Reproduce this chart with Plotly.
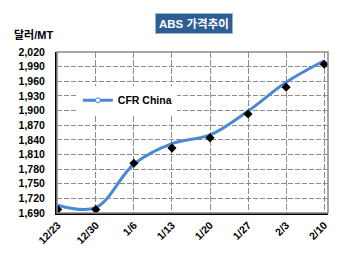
import plotly.graph_objects as go

categories = ["12/23", "12/30", "1/6", "1/13", "1/20", "1/27", "2/3", "2/10"]
cfr_china_line = [1706, 1701, 1790, 1832, 1850, 1899, 1958, 2002]
cfr_china_points = [1697, 1697, 1792, 1823, 1844, 1893, 1948, 1995]
y_ticks = list(range(1690, 2021, 30))

FONT = "Liberation Sans, Arial, Noto Sans CJK KR, sans-serif"
BLUE = "#4A88D6"

fig = go.Figure()
fig.add_trace(go.Scatter(
    x=categories, y=cfr_china_line, mode="lines",
    line=dict(color=BLUE, width=3, shape="spline", smoothing=1),
    showlegend=False, hoverinfo="skip"))
fig.add_trace(go.Scatter(
    x=categories, y=cfr_china_points, mode="markers",
    marker=dict(symbol="diamond", color="black", size=7),
    showlegend=False))
fig.add_trace(go.Scatter(
    x=[None], y=[None], mode="lines+markers", name="CFR China",
    line=dict(color=BLUE, width=3),
    marker=dict(symbol="circle", color="white", size=5, line=dict(color=BLUE, width=1))))

fig.update_layout(
    width=350, height=261,
    margin=dict(l=57, r=22, t=52, b=48),
    paper_bgcolor="white", plot_bgcolor="white",
    font=dict(family=FONT, size=10, color="black"),
    legend=dict(x=0.077, y=0.79, xanchor="left", yanchor="top",
                bgcolor="white", borderwidth=0,
                font=dict(family=FONT, size=10.5, color="black", weight="bold"),
                itemwidth=30),
    shapes=[dict(type="rect", xref="paper", yref="paper", x0=0, x1=1, y0=0, y1=1,
                 line=dict(color="#8a8a8a", width=1.5), layer="above")],
    annotations=[
        dict(text="<b>ABS 가격추이</b>", xref="paper", yref="paper", x=0.506, y=1.18,
             xanchor="center", yanchor="middle", showarrow=False,
             font=dict(family=FONT, size=11.5, color="white"),
             bgcolor="#2F5E94", bordercolor="#9fb3cc", borderwidth=1, borderpad=3),
        dict(text="<b>달러/MT</b>", xref="paper", yref="paper", x=-0.166, y=1.106,
             xanchor="left", yanchor="middle", showarrow=False,
             font=dict(family=FONT, size=11, color="black")),
    ],
)

fig.update_xaxes(
    type="category", range=[-0.02, 7.1],
    showgrid=True, gridcolor="#8c8c8c", gridwidth=1, griddash="6px,2px",
    showline=True, linecolor="black", linewidth=2,
    ticks="", tickangle=-45,
    tickfont=dict(family=FONT, size=10.5, color="black", weight="bold"),
    zeroline=False)
fig.update_yaxes(
    range=[1690, 2020], tickvals=y_ticks, tickformat=",d",
    showgrid=True, gridcolor="#8c8c8c", gridwidth=1, griddash="5px,2px",
    showline=True, linecolor="black", linewidth=2,
    ticks="", ticklabelstandoff=8,
    tickfont=dict(family=FONT, size=10.5, color="black", weight="bold"),
    zeroline=False)

fig.write_html("out.html")
